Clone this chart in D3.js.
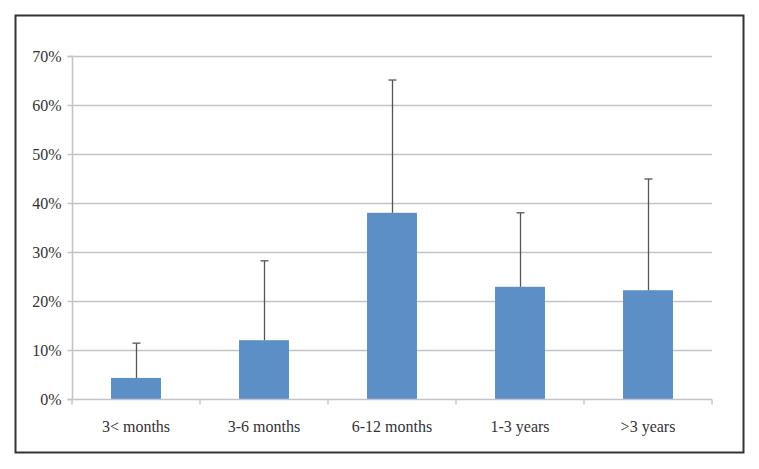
<!DOCTYPE html>
<html><head><meta charset="utf-8">
<script src="https://cdnjs.cloudflare.com/ajax/libs/d3/7.8.5/d3.min.js"></script>
<style>body{margin:0;background:#fff}svg{display:block}</style>
</head><body>
<script>
const categories = ["3< months","3-6 months","6-12 months","1-3 years",">3 years"];
const values = [0.043, 0.12, 0.38, 0.229, 0.222];
const errorTops = [0.114, 0.282, 0.651, 0.38, 0.449];
const yTicks = [0,0.1,0.2,0.3,0.4,0.5,0.6,0.7];

const W=759,H=469;
const svg=d3.select("body").append("svg").attr("width",W).attr("height",H);
svg.append("rect").attr("x",15.5).attr("y",15.5).attr("width",728).attr("height",437)
  .attr("fill","#fff").attr("stroke","#333").attr("stroke-width",2);

const x=d3.scaleBand().domain(categories).range([72,712]).paddingInner(0.61).paddingOuter(0.305);
const y=d3.scaleLinear().domain([0,0.7]).range([399,56]);
const font="'Liberation Serif','Times New Roman',serif";

// gridlines
svg.append("g").selectAll("line").data(yTicks.slice(1)).join("line")
  .attr("x1",72).attr("x2",712).attr("y1",d=>y(d)+0.5).attr("y2",d=>y(d)+0.5)
  .attr("stroke","#c4c4c4").attr("stroke-width",1.5);

// y axis
const ya=svg.append("g").attr("transform","translate(72.5,0)")
  .call(d3.axisLeft(y).tickValues(yTicks).tickFormat(d3.format(".0%")).tickSize(5).tickPadding(6));
ya.select(".domain").attr("stroke","#c4c4c4").attr("stroke-width",1.5).attr("d","M-5,"+(y(0)+0.5)+"H0V"+(y(0.7)+0.5)+"H-5");
ya.selectAll(".tick line").attr("stroke","#c4c4c4").attr("stroke-width",1.5);
ya.selectAll("text").attr("font-family",font).attr("font-size",16).attr("fill","#333");

// bars
svg.append("g").selectAll("rect").data(values).join("rect")
  .attr("x",(d,i)=>x(categories[i])).attr("width",x.bandwidth())
  .attr("y",d=>y(d)).attr("height",d=>y(0)-y(d)).attr("fill","#5b8fc6");

// x axis
const xa=svg.append("g").attr("transform","translate(0,"+(y(0)+0.5)+")");
xa.append("line").attr("x1",72).attr("x2",712).attr("stroke","#c4c4c4").attr("stroke-width",1.5);
xa.selectAll(".tk").data(d3.range(categories.length+1)).join("line")
  .attr("x1",i=>72+i*(640/categories.length)).attr("x2",i=>72+i*(640/categories.length))
  .attr("y1",0).attr("y2",5).attr("stroke","#c4c4c4").attr("stroke-width",1.5);
xa.selectAll("text").data(categories).join("text")
  .attr("x",d=>x(d)+x.bandwidth()/2).attr("y",32).attr("text-anchor","middle")
  .attr("font-family",font).attr("font-size",16).attr("fill","#333").text(d=>d);

// error bars
const eb=svg.append("g").attr("stroke","#555").attr("stroke-width",1.3);
categories.forEach((c,i)=>{
  const cx=Math.round(x(c)+x.bandwidth()/2)+0.5;
  eb.append("line").attr("x1",cx).attr("x2",cx).attr("y1",y(values[i])).attr("y2",y(errorTops[i]));
  eb.append("line").attr("x1",cx-4).attr("x2",cx+4).attr("y1",y(errorTops[i])).attr("y2",y(errorTops[i]));
});
</script>
</body></html>
